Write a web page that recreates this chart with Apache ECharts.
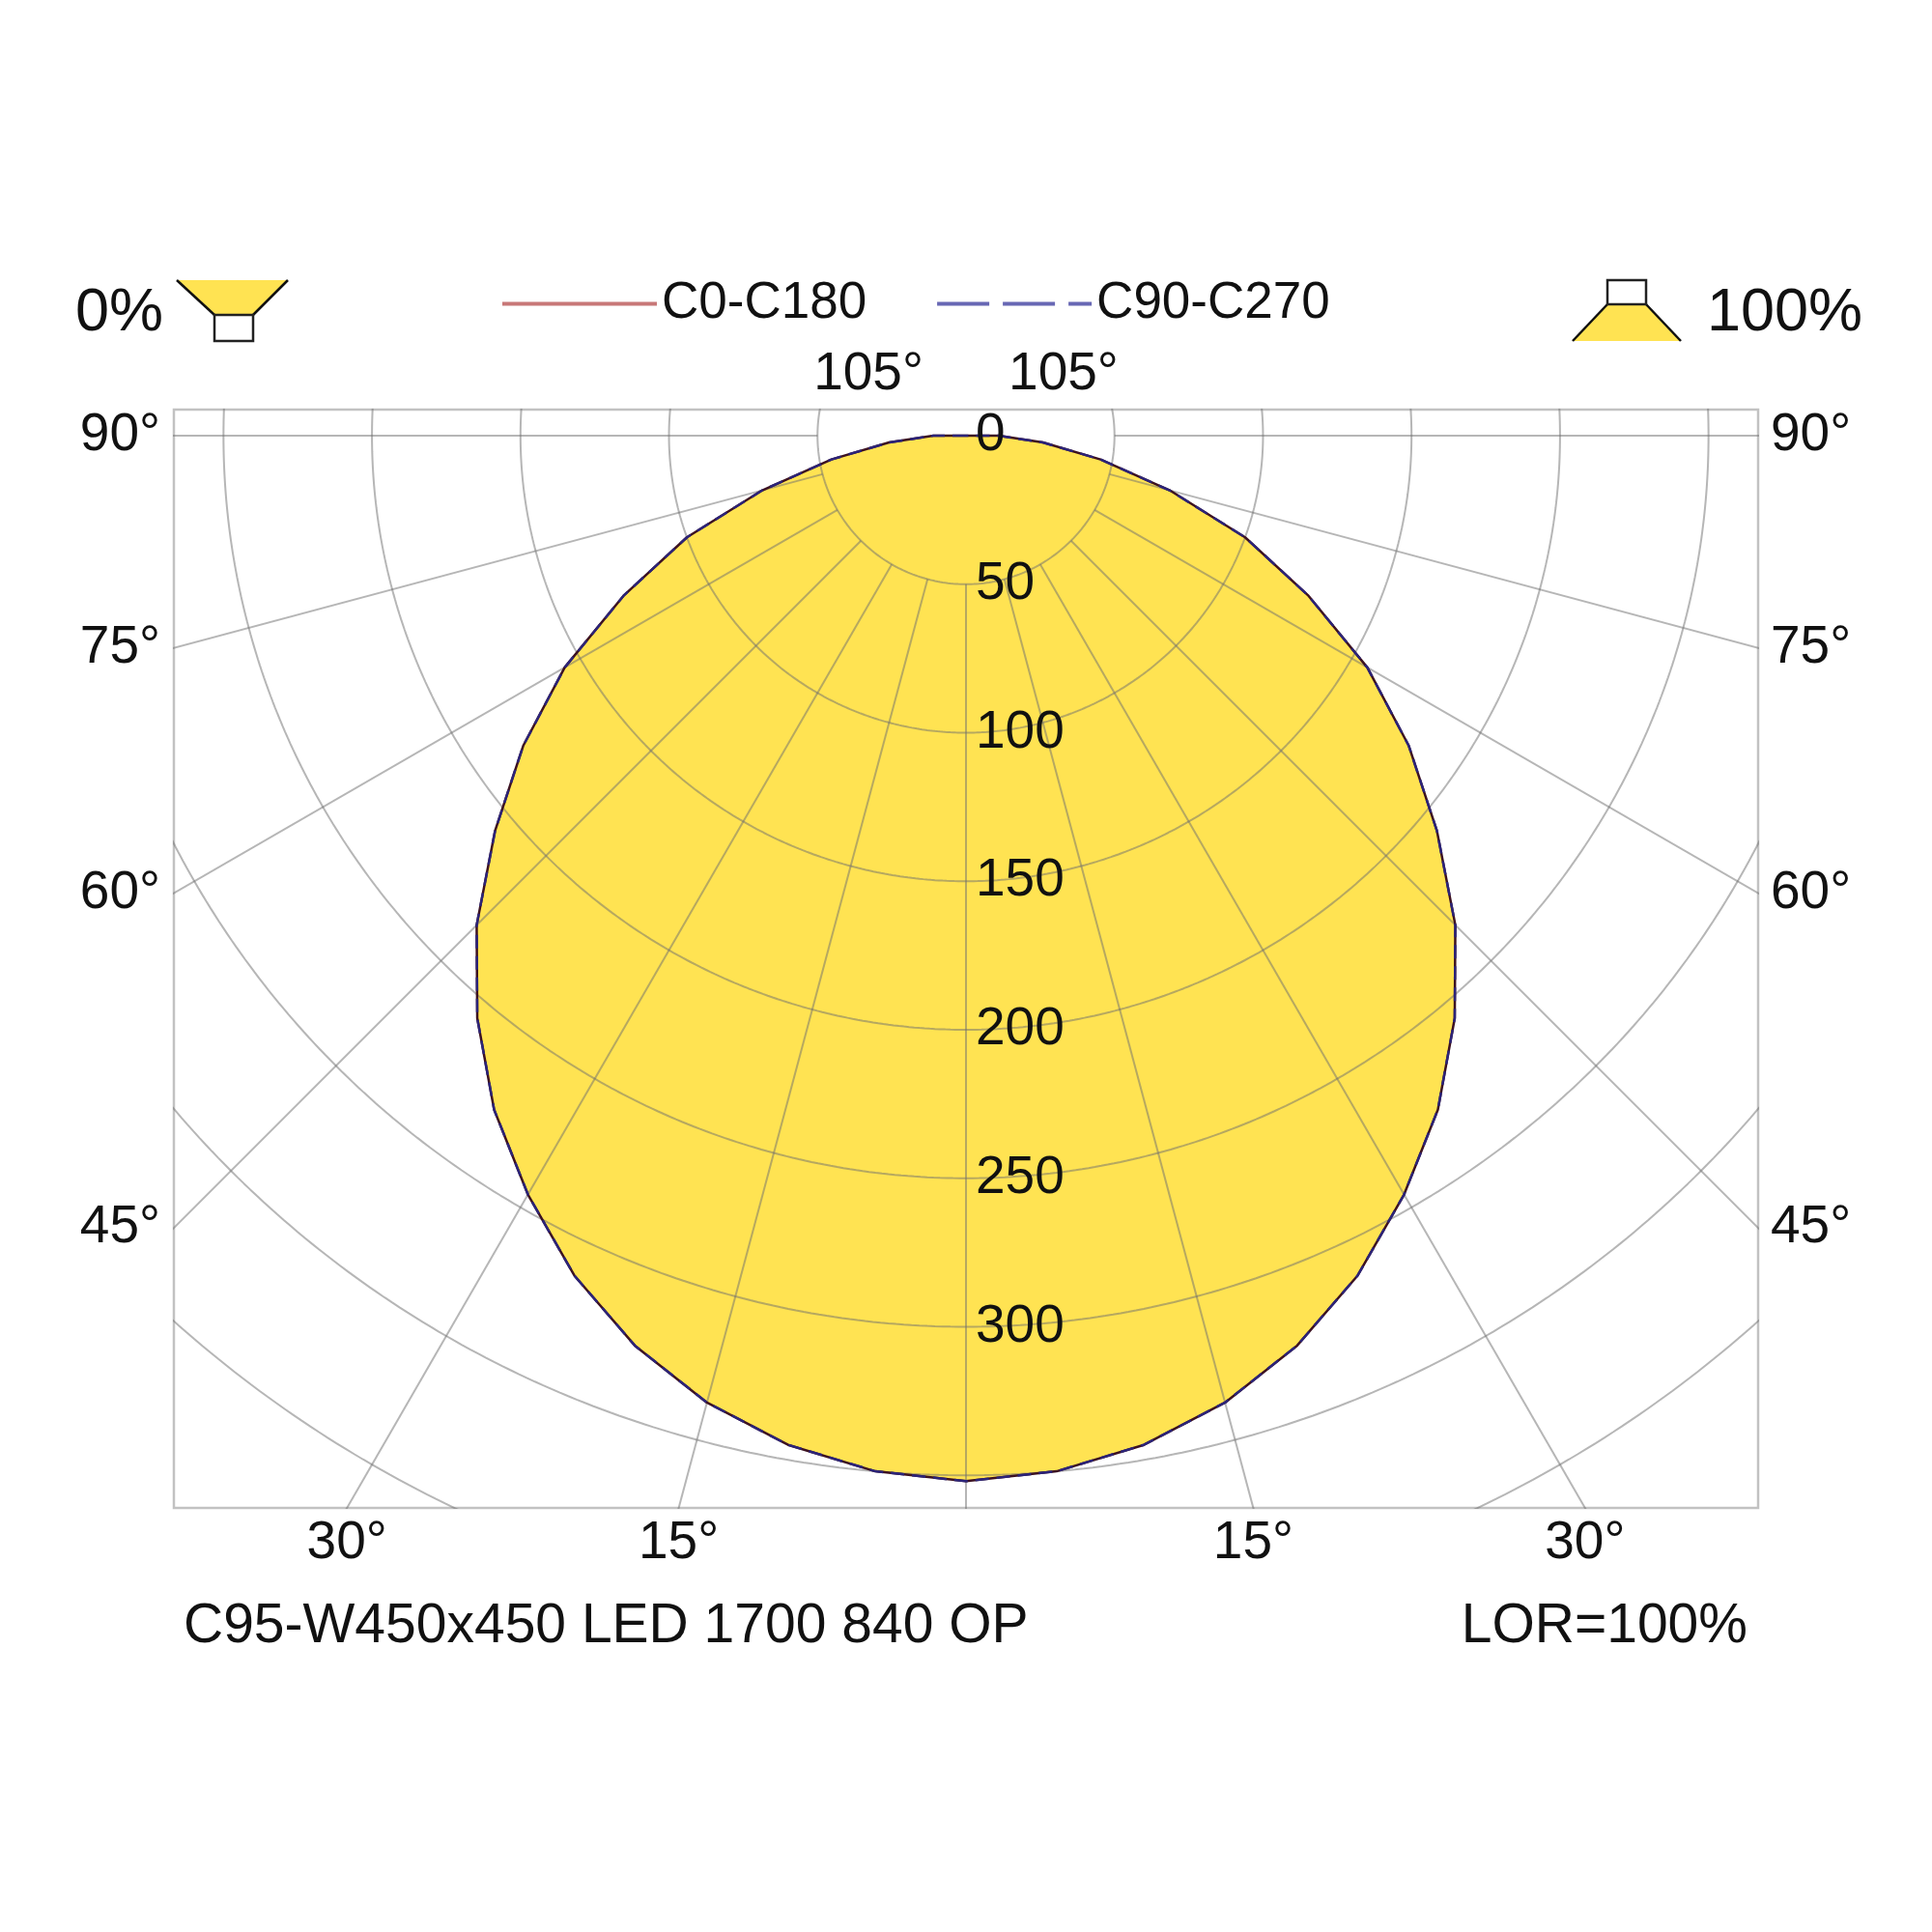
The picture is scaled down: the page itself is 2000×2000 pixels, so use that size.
<!DOCTYPE html>
<html>
<head>
<meta charset="utf-8" />
<title>C95-W450x450 LED 1700 840 OP</title>
<script src="https://cdn.jsdelivr.net/npm/echarts@6/dist/echarts.min.js"></script>
<style>
  html, body { margin: 0; padding: 0; background: #fff; }
  #chartmain { width: 2000px; height: 2000px; }
</style>
</head>
<body>
<div id="chartmain"></div>
<script>
// gamma angles of the measured points (deg, 0 = straight down)
var gammaAngles = [0, 5, 10, 15, 20, 25, 30, 35, 40, 45, 50, 55, 60, 65, 70, 75, 80, 85, 90];
// luminous intensity in cd/klm
var c0c180  = [352, 350, 345, 337, 326, 312, 295, 277, 256, 233, 207, 182, 156, 127, 100, 71, 46, 26, 11];
var c90c270 = [352, 350, 345, 337, 326, 312, 295, 277, 256, 233, 207, 182, 156, 127, 100, 71, 46, 26, 11];

// grid ticks
var radiusTicks = [50, 100, 150, 200, 250, 300, 350, 400, 450];
var radiusLabels = [0, 50, 100, 150, 200, 250, 300];
var radialTicks = [0, 15, 30, 45, 60, 75, 90, 105];
var sideAngleLabels = [45, 60, 75, 90];
var bottomAngleLabels = [15, 30];
var topAngleLabels = [105];

// visible window of the diagram (cd/klm)
var xHalf = 266.7, yTop = 8.8, yBottom = -361;

var FONT = "'Liberation Sans', Arial, sans-serif";
var TXT = '#111';
var GRIDC = 'rgba(110,110,110,0.5)';
var YELLOW = '#FFE352';

function rad(d) { return d * Math.PI / 180; }
// polar -> diagram coords, side -1 = left half, +1 = right half
function pt(g, r, side) { return [side * r * Math.sin(rad(g)), -r * Math.cos(rad(g))]; }

function planeCurve(vals) {
  var pts = [[0, 0]];  // nothing goes to the upper half
  for (var i = gammaAngles.length - 1; i >= 0; i--) pts.push(pt(gammaAngles[i], vals[i], -1));
  for (var j = 1; j < gammaAngles.length; j++) pts.push(pt(gammaAngles[j], vals[j], 1));
  pts.push([0, 0]);
  return pts;
}

function init() {
  var myChart = echarts.init(document.getElementById('chartmain'));
  var series = [];

  // yellow area
  series.push({
    name: 'fill', type: 'line', data: planeCurve(c0c180), symbol: 'none', silent: true, z: 1,
    lineStyle: { width: 0 }, areaStyle: { color: YELLOW, opacity: 1 }
  });

  // circles
  radiusTicks.forEach(function (r) {
    var pts = [];
    for (var a = 0; a <= 360; a += 0.5) pts.push(pt(a, r, 1));
    series.push({ type: 'line', data: pts, symbol: 'none', silent: true, z: 2,
      lineStyle: { color: GRIDC, width: 2 } });
  });
  // radial lines, starting at the 50 circle
  radialTicks.forEach(function (g) {
    [-1, 1].forEach(function (side) {
      if (g === 0 && side < 0) return;
      series.push({ type: 'line', data: [pt(g, 50, side), pt(g, 600, side)], symbol: 'none', silent: true, z: 2,
        lineStyle: { color: GRIDC, width: 2 } });
    });
  });

  series.push({
    name: 'C0-C180', type: 'line', data: planeCurve(c0c180), symbol: 'none', z: 3,
    lineStyle: { color: '#3c1222', width: 2.5 }, itemStyle: { color: '#c87878' }
  });
  series.push({
    name: 'C90-C270', type: 'line', data: planeCurve(c90c270), symbol: 'none', z: 4,
    lineStyle: { color: '#2c2478', width: 2.5, type: [14, 8] }, itemStyle: { color: '#6868b4' }
  });

  function labelSeries(data, texts, position, distance) {
    return {
      type: 'scatter', data: data, symbolSize: 0, silent: true, clip: false, z: 6,
      itemStyle: { opacity: 1 },
      label: {
        show: true, position: position, distance: distance, opacity: 1,
        fontSize: 55, fontFamily: FONT, color: TXT,
        formatter: function (p) { return texts[p.dataIndex]; }
      }
    };
  }
  var degTxt = function (g) { return g + '°'; };

  series.push(labelSeries(radiusLabels.map(function (r) { return [0, -r]; }),
    radiusLabels.map(String), 'right', 10));
  series.push(labelSeries(sideAngleLabels.map(function (g) { return [-xHalf, -xHalf * Math.cos(rad(g)) / Math.sin(rad(g))]; }),
    sideAngleLabels.map(degTxt), 'left', 14));
  series.push(labelSeries(sideAngleLabels.map(function (g) { return [xHalf, -xHalf * Math.cos(rad(g)) / Math.sin(rad(g))]; }),
    sideAngleLabels.map(degTxt), 'right', 13));
  series.push(labelSeries(bottomAngleLabels.map(function (g) { return [yBottom * Math.tan(rad(g)), yBottom]; })
      .concat(bottomAngleLabels.map(function (g) { return [-yBottom * Math.tan(rad(g)), yBottom]; })),
    bottomAngleLabels.map(degTxt).concat(bottomAngleLabels.map(degTxt)), 'bottom', 9));
  series.push(labelSeries(topAngleLabels.map(function (g) { return [-yTop * Math.sin(rad(g)) / -Math.cos(rad(g)), yTop]; })
      .concat(topAngleLabels.map(function (g) { return [yTop * Math.sin(rad(g)) / -Math.cos(rad(g)), yTop]; })),
    topAngleLabels.map(degTxt).concat(topAngleLabels.map(degTxt)), 'top', 9));

  var option = {
    backgroundColor: '#fff',
    animation: false,
    grid: {
      left: 180, top: 424, width: 1640, height: 1137,
      show: true, borderColor: '#c2c2c2', borderWidth: 2.5, backgroundColor: 'transparent'
    },
    xAxis: { type: 'value', min: -xHalf, max: xHalf, show: false },
    yAxis: { type: 'value', min: yBottom, max: yTop, show: false },
    legend: {
      left: 513, top: 283, itemWidth: 160, itemHeight: 20, itemGap: 71,
      textStyle: { fontSize: 53, fontFamily: FONT, color: TXT },
      data: [
        { name: 'C0-C180', itemStyle: { opacity: 0 }, lineStyle: { color: '#c87878', width: 4 } },
        { name: 'C90-C270', itemStyle: { opacity: 0 }, lineStyle: { color: '#6868b4', width: 4, type: [54, 14] } }
      ]
    },
    graphic: [
      // 0% luminaire icon
      { type: 'polygon', shape: { points: [[183, 290], [298, 290], [262, 326], [222, 326]] }, style: { fill: YELLOW } },
      { type: 'polyline', shape: { points: [[183, 290], [222, 326]] }, style: { stroke: '#111', lineWidth: 2.5 } },
      { type: 'polyline', shape: { points: [[298, 290], [262, 326]] }, style: { stroke: '#111', lineWidth: 2.5 } },
      { type: 'rect', shape: { x: 222, y: 326, width: 40, height: 27 }, style: { fill: '#fff', stroke: '#222', lineWidth: 2.5 } },
      { type: 'text', x: 78, y: 325, style: { text: '0%', fontSize: 63, fontFamily: FONT, fill: TXT, textVerticalAlign: 'middle' } },
      // 100% luminaire icon
      { type: 'polygon', shape: { points: [[1664, 315], [1704, 315], [1740, 353], [1628, 353]] }, style: { fill: YELLOW } },
      { type: 'polyline', shape: { points: [[1664, 315], [1628, 353]] }, style: { stroke: '#111', lineWidth: 2.5 } },
      { type: 'polyline', shape: { points: [[1704, 315], [1740, 353]] }, style: { stroke: '#111', lineWidth: 2.5 } },
      { type: 'rect', shape: { x: 1664, y: 290, width: 40, height: 25 }, style: { fill: '#fff', stroke: '#222', lineWidth: 2.5 } },
      { type: 'text', x: 1767, y: 325, style: { text: '100%', fontSize: 63, fontFamily: FONT, fill: TXT, textVerticalAlign: 'middle' } },
      // footer
      { type: 'text', x: 190, y: 1684, style: { text: 'C95-W450x450 LED 1700 840 OP', fontSize: 57, fontFamily: FONT, fill: TXT, textVerticalAlign: 'middle' } },
      { type: 'text', x: 1809, y: 1684, style: { text: 'LOR=100%', fontSize: 57, fontFamily: FONT, fill: TXT, textAlign: 'right', textVerticalAlign: 'middle' } }
    ],
    series: series
  };
  myChart.setOption(option);
}
window.addEventListener('load', init, false);
</script>
</body>
</html>
